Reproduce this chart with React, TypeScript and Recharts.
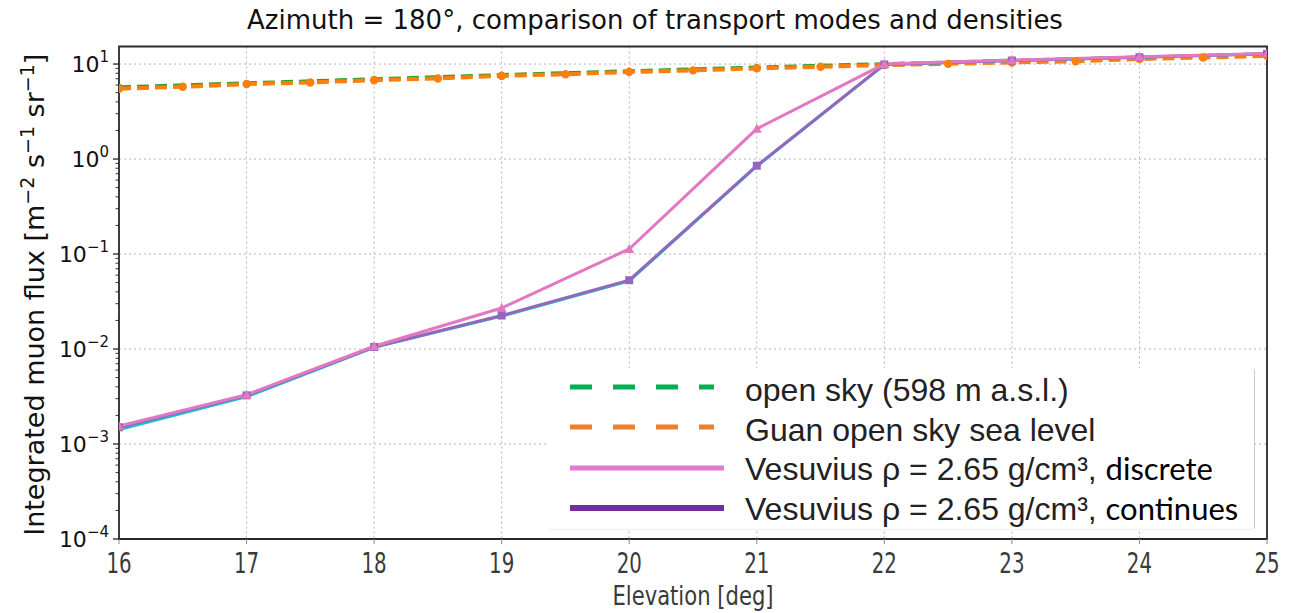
import React from 'react';
import { LineChart, Line, XAxis, YAxis, CartesianGrid, ReferenceArea, Legend } from 'recharts';

// ---- data ----
const ELEV_HALF = [16, 16.5, 17, 17.5, 18, 18.5, 19, 19.5, 20, 20.5, 21, 21.5, 22, 22.5, 23, 23.5, 24, 24.5, 25];
const GUAN_SEA_LEVEL = [5.5, 5.77, 6.15, 6.4, 6.75, 7.05, 7.5, 7.8, 8.25, 8.58, 9.0, 9.37, 9.76, 10.05, 10.4, 10.7, 11.3, 11.7, 12.2];

const ELEV_INT = [16, 17, 18, 19, 20, 21, 22, 23, 24, 25];
const OPEN_SKY = [5.75, 6.35, 7.0, 7.75, 8.5, 9.3, 10.1, 10.95, 11.85, 12.8];
const VESUVIUS_DISCRETE = [1.55e-3, 3.3e-3, 1.07e-2, 2.7e-2, 0.113, 2.08, 10.0, 11.0, 11.9, 12.9];
const VESUVIUS_CONTINUES = [1.5e-3, 3.25e-3, 1.05e-2, 2.25e-2, 0.053, 0.85, 9.9, 10.9, 11.8, 12.8];
const VESUVIUS_CONTINUES_ALT = [1.42e-3, 3.15e-3, 1.04e-2, 2.22e-2, 0.052, 0.84, 9.85, 10.9, 11.8, 12.8];

const X_TICKS = [16, 17, 18, 19, 20, 21, 22, 23, 24, 25];
const Y_MAJOR = [1e-4, 1e-3, 1e-2, 1e-1, 1, 10];
const Y_MINOR_MULT = [2, 3, 4, 5, 6, 7, 8, 9];
const Y_EXP_LABELS = ['\u22124', '\u22123', '\u22122', '\u22121', '0', '1'];
const Y_DOMAIN = [1e-4, 15.3];

const TITLE = 'Azimuth = 180\u00b0, comparison of transport modes and densities';
const X_LABEL = 'Elevation [deg]';

const LEGEND_MAIN = [
  'open sky (598 m a.s.l.)',
  'Guan open sky sea level',
  'Vesuvius \u03c1 = 2.65 g/cm\u00b3, ',
  'Vesuvius \u03c1 = 2.65 g/cm\u00b3, ',
];
const LEGEND_SUFFIX = ['', '', 'discrete', 'continues'];

// build table
const Y_TICKS: number[] = [];
Y_MAJOR.forEach((m) => {
  Y_TICKS.push(m);
  if (m < 10) Y_MINOR_MULT.forEach((k) => Y_TICKS.push(+(k * m).toPrecision(3)));
});

const rows = ELEV_HALF.map((e, i) => {
  const j = ELEV_INT.indexOf(e);
  const r: any = { elev: e, guan: GUAN_SEA_LEVEL[i] };
  if (j >= 0) {
    r.openSky = OPEN_SKY[j];
    r.discrete = VESUVIUS_DISCRETE[j];
    r.continues = VESUVIUS_CONTINUES[j];
    r.continuesAlt = VESUVIUS_CONTINUES_ALT[j];
  }
  return r;
});

const FONT = '"DejaVu Sans", sans-serif';
const CONDENSED = '"DejaVu Sans Condensed", "DejaVu Sans", sans-serif';

const circleDot = (r: number, color: string) => (p: any) => {
  if (p.cy == null || p.cx == null || p.value == null) return <g key={`e${p.index}`} />;
  return <circle key={`c${p.index}`} cx={p.cx} cy={p.cy} r={r} fill={color} stroke="none" />;
};
const triDot = (color: string) => (p: any) => {
  if (p.cy == null || p.value == null) return <g key={`e${p.index}`} />;
  const { cx, cy } = p;
  return (
    <polygon key={`t${p.index}`} points={`${cx},${cy - 5} ${cx - 5},${cy + 4} ${cx + 5},${cy + 4}`} fill={color} />
  );
};
const sqDot = (color: string) => (p: any) => {
  if (p.cy == null || p.value == null) return <g key={`e${p.index}`} />;
  return <rect key={`s${p.index}`} x={p.cx - 4} y={p.cy - 4} width={8} height={8} fill={color} />;
};

const YTick = (props: any) => {
  const { x, y, payload } = props;
  const v = payload.value;
  const lg = Math.log10(v);
  const exp = Math.round(lg);
  const major = Math.abs(lg - exp) < 1e-6;
  const axisX = x + 9;
  const idx = Y_MAJOR.findIndex((m) => Math.abs(Math.log10(m) - exp) < 1e-6);
  return (
    <g>
      <line x1={axisX - (major ? 6 : 3.5)} x2={axisX} y1={y} y2={y} stroke="#333" strokeWidth={major ? 1.4 : 1} />
      {major && (
        <text x={x - 1} y={y + 8} textAnchor="end" fontFamily={FONT} fontSize={22} fill="#111">
          10
          <tspan dy={-10} fontSize={15}>{Y_EXP_LABELS[idx]}</tspan>
        </text>
      )}
    </g>
  );
};

const XTick = (props: any) => {
  const { x, y, payload } = props;
  return (
    <text
      transform={`translate(${x},${y + 27}) scale(1,1.3)`}
      textAnchor="middle"
      fontFamily={CONDENSED}
      fontSize={22}
      fill="#3a3a3a"
    >
      {payload.value}
    </text>
  );
};

const XLabel = (props: any) => {
  const vb = props.viewBox || {};
  const cx = vb.x + vb.width / 2;
  return (
    <text
      transform={`translate(${cx},${vb.y + 66}) scale(1,1.1)`}
      textAnchor="middle"
      fontFamily={CONDENSED}
      fontSize={23.5}
      fill="#3a3a3a"
    >
      {X_LABEL}
    </text>
  );
};

const YLabel = (props: any) => {
  const vb = props.viewBox || {};
  const cy = vb.y + vb.height / 2 + 2;
  return (
    <text
      transform={`translate(36,${cy}) rotate(-90)`}
      textAnchor="middle"
      fontFamily={FONT}
      fontSize={27}
      fill="#111"
    >
      Integrated muon flux [m
      <tspan dy={-10} fontSize={19}>{'\u22122'}</tspan>
      <tspan dy={10}> s</tspan>
      <tspan dy={-10} fontSize={19}>{'\u22121'}</tspan>
      <tspan dy={10}> sr</tspan>
      <tspan dy={-10} fontSize={19}>{'\u22121'}</tspan>
      <tspan dy={10}>]</tspan>
    </text>
  );
};

const LEGEND_SWATCH = [
  { color: '#00b050', dash: '22 21', w: 5 },
  { color: '#ed7d31', dash: '22 21', w: 5 },
  { color: '#e07ad4', dash: undefined, w: 5 },
  { color: '#7030a0', dash: undefined, w: 6 },
];

const LegendBox = () => (
  <div
    style={{
      position: 'relative',
      width: 707,
      height: 162,
      background: '#fff',
      boxSizing: 'border-box',
      borderRight: '1.5px solid #c8c8c8',
      borderBottom: '1px solid #eee',
      borderRadius: 4,
    }}
  >
    {LEGEND_MAIN.map((t, i) => (
      <div key={i} style={{ position: 'absolute', left: 0, top: 2 + i * 39.5, height: 39, width: 707 }}>
        <svg width={160} height={39} style={{ position: 'absolute', left: 20, top: 0 }}>
          <line
            x1={2}
            x2={LEGEND_SWATCH[i].dash ? 146 : 156}
            y1={i < 2 ? 17 : 19}
            y2={i < 2 ? 17 : 19}
            stroke={LEGEND_SWATCH[i].color}
            strokeWidth={LEGEND_SWATCH[i].w}
            strokeDasharray={LEGEND_SWATCH[i].dash}
          />
        </svg>
        <div
          style={{
            position: 'absolute',
            left: 197,
            top: 0,
            lineHeight: '39px',
            whiteSpace: 'nowrap',
            fontFamily: '"Liberation Sans", Arial, sans-serif',
            fontSize: 32,
            color: '#222',
          }}
        >
          {t}
          <span style={{ fontFamily: 'Lato, "Open Sans", sans-serif', fontSize: 31, color: '#000' }}>
            {LEGEND_SUFFIX[i]}
          </span>
        </div>
      </div>
    ))}
  </div>
);

export default function App() {
  return (
    <div style={{ position: 'relative', width: 1286, height: 605 }}>
      <div
        style={{
          position: 'absolute',
          left: 0,
          top: -3,
          width: 1294,
          textAlign: 'center',
          marginLeft: -8 + 655 - 647,
          fontFamily: FONT,
          fontSize: 26,
          lineHeight: '30px',
          color: '#111',
          whiteSpace: 'nowrap',
          zIndex: 2,
        }}
      >
        {TITLE}
      </div>
      <LineChart width={1286} height={605} data={rows} margin={{ top: 38.5, right: 27, bottom: 0, left: 0 }}>
        <CartesianGrid
          stroke="#b5b5b5"
          strokeDasharray="2 3"
          strokeWidth={1}
          horizontalValues={Y_MAJOR}
          verticalValues={X_TICKS}
        />
        <XAxis
          dataKey="elev"
          type="number"
          domain={[16, 25]}
          ticks={X_TICKS}
          allowDataOverflow
          height={74}
          axisLine={false}
          tickSize={5}
          tickMargin={2}
          tickLine={{ stroke: '#888' }}
          tick={<XTick />}
          label={<XLabel />}
        />
        <YAxis
          type="number"
          scale="log"
          domain={Y_DOMAIN}
          allowDataOverflow
          ticks={Y_TICKS}
          interval={0}
          width={111}
          axisLine={false}
          tickLine={false}
          tickSize={6}
          tickMargin={3}
          tick={<YTick />}
          label={<YLabel />}
        />
        <Line
          dataKey="openSky"
          stroke="#2ca02c"
          strokeWidth={3}
          strokeDasharray="12 6"
          connectNulls
          dot={circleDot(3, '#2ca02c')}
          isAnimationActive={false}
        />
        <Line
          dataKey="guan"
          stroke="#ff7f0e"
          strokeWidth={4}
          strokeDasharray="12 6"
          dot={circleDot(4.2, '#ff7f0e')}
          isAnimationActive={false}
        />
        <Line
          dataKey="continuesAlt"
          stroke="#17becf"
          strokeWidth={3}
          connectNulls
          dot={false}
          isAnimationActive={false}
        />
        <Line
          dataKey="continues"
          stroke="#9467bd"
          strokeWidth={3}
          connectNulls
          dot={sqDot('#9467bd')}
          isAnimationActive={false}
        />
        <Line
          dataKey="discrete"
          stroke="#e377c2"
          strokeWidth={3}
          connectNulls
          dot={triDot('#e377c2')}
          isAnimationActive={false}
        />
        <ReferenceArea
          x1={16}
          x2={25}
          y1={Y_DOMAIN[0]}
          y2={Y_DOMAIN[1]}
          fill="none"
          fillOpacity={0}
          stroke="#2a2a2a"
          strokeWidth={1.8}
          ifOverflow="visible"
        />
        <Legend
          layout="horizontal"
          verticalAlign="middle"
          align="center"
          content={() => <LegendBox />}
          wrapperStyle={{ position: 'absolute', left: 540, top: 360, width: 707, height: 162 }}
        />
      </LineChart>
    </div>
  );
}
